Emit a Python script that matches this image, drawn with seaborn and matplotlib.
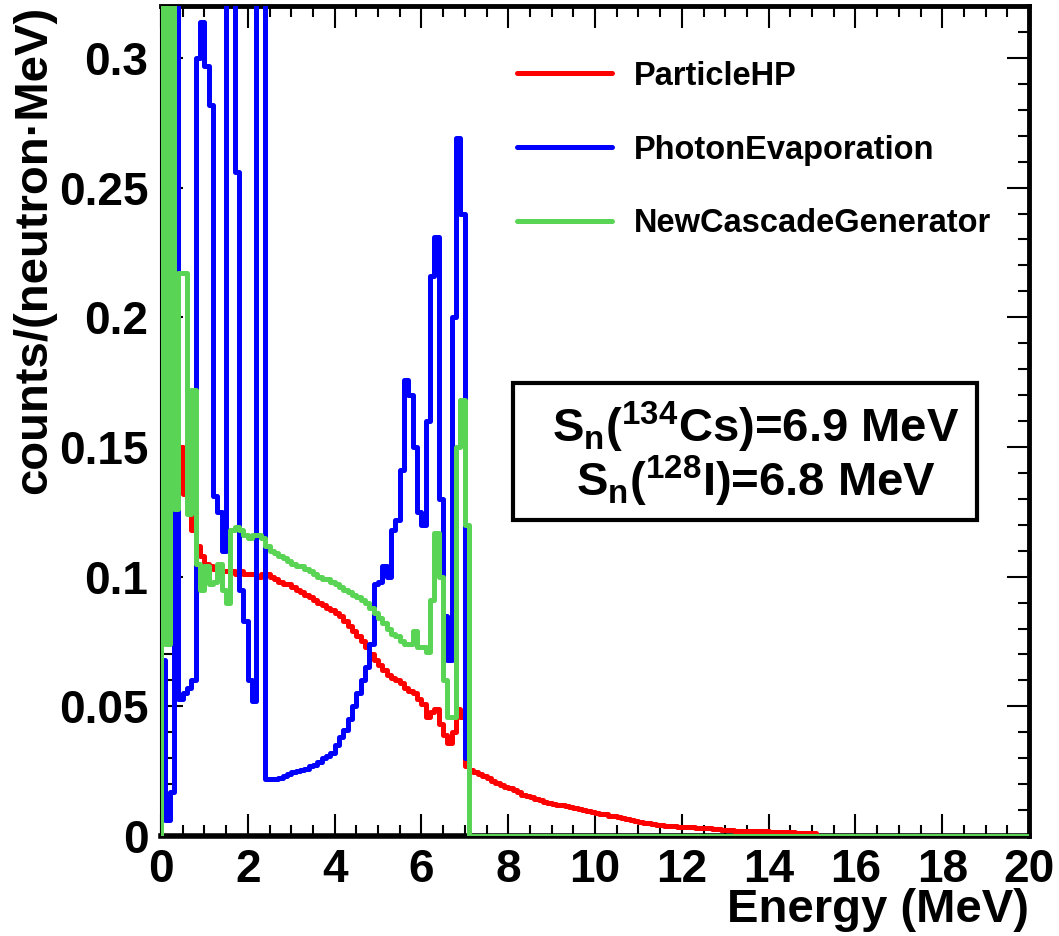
import numpy as np
import pandas as pd
import matplotlib
matplotlib.use("Agg")
import matplotlib.pyplot as plt
import seaborn as sns
from matplotlib.ticker import MultipleLocator
from matplotlib.patches import Rectangle

# ---------------- data (0.1 MeV bins from 0 to 20 MeV) ----------------
bin_edges = np.linspace(0.0, 20.0, 201)

particle_hp = [
    0.160, 0.157, 0.155, 0.152, 0.150, 0.132, 0.126, 0.118, 0.112, 0.108,
    0.105, 0.104, 0.103, 0.102, 0.102, 0.102, 0.102, 0.101, 0.102, 0.101,
    0.101, 0.101, 0.100, 0.101, 0.101, 0.100, 0.099, 0.098, 0.097, 0.097,
    0.096, 0.095, 0.094, 0.093, 0.092, 0.091, 0.090, 0.089, 0.088, 0.087,
    0.086, 0.085, 0.083, 0.081, 0.079, 0.077, 0.075, 0.073, 0.070, 0.068,
    0.066, 0.064, 0.062, 0.061, 0.060, 0.059, 0.057, 0.056, 0.055, 0.053,
    0.051, 0.046, 0.048, 0.049, 0.043, 0.039, 0.036, 0.040, 0.049, 0.046,
    0.027, 0.0255, 0.0248, 0.024, 0.0232, 0.0222, 0.0213, 0.0205, 0.0198, 0.019,
    0.0185, 0.0178, 0.017, 0.016, 0.0155, 0.015, 0.0143, 0.0137, 0.0132, 0.0128,
    0.0125, 0.0121, 0.0118, 0.0114, 0.0111, 0.0108, 0.0104, 0.0100, 0.0096, 0.0093,
    0.0089, 0.0086, 0.0083, 0.0079, 0.0076, 0.0073, 0.0069, 0.0065, 0.0061, 0.0057,
    0.0054, 0.0052, 0.0049, 0.0047, 0.0044, 0.0042, 0.0040, 0.0038, 0.0037, 0.0036,
    0.0035, 0.0034, 0.0033, 0.0032, 0.0031, 0.0030, 0.0029, 0.0027, 0.0026, 0.0025,
    0.0023, 0.0022, 0.0021, 0.0020, 0.0020, 0.0019, 0.0019, 0.0018, 0.0018, 0.0018,
    0.0017, 0.0016, 0.0016, 0.0015, 0.0015, 0.0014, 0.0013, 0.0013, 0.0012, 0.0012,
    0.0011,
] + [0.0] * 49

photon_evaporation = [
    0.068, 0.006, 0.017, 0.400, 0.053, 0.055, 0.057, 0.060, 0.300, 0.314,
    0.297, 0.282, 0.131, 0.125, 0.110, 0.330, 0.400, 0.256, 0.095, 0.083,
    0.060, 0.052, 0.350, 0.400, 0.022, 0.022, 0.022, 0.0225, 0.023, 0.024,
    0.0245, 0.025, 0.0255, 0.026, 0.027, 0.0275, 0.0285, 0.030, 0.031, 0.032,
    0.035, 0.038, 0.041, 0.045, 0.050, 0.055, 0.060, 0.065, 0.074, 0.097,
    0.098, 0.104, 0.100, 0.118, 0.122, 0.141, 0.176, 0.170, 0.150, 0.125,
    0.120, 0.160, 0.216, 0.231, 0.130, 0.085, 0.068, 0.200, 0.269, 0.240,
    0.030, 0.0,
] + [0.0] * 128

new_cascade_generator = [
    0.450, 0.074, 0.450, 0.126, 0.217, 0.217, 0.124, 0.172, 0.105, 0.095,
    0.104, 0.097, 0.098, 0.105, 0.095, 0.090, 0.118, 0.119, 0.118, 0.116,
    0.115, 0.116, 0.116, 0.115, 0.112, 0.110, 0.109, 0.108, 0.107, 0.106,
    0.105, 0.104, 0.104, 0.103, 0.102, 0.101, 0.100, 0.099, 0.099, 0.098,
    0.097, 0.096, 0.095, 0.094, 0.093, 0.092, 0.091, 0.090, 0.088, 0.086,
    0.084, 0.082, 0.080, 0.078, 0.077, 0.075, 0.074, 0.074, 0.079, 0.073,
    0.073, 0.071, 0.091, 0.117, 0.100, 0.060, 0.046, 0.046, 0.150, 0.168,
    0.120, 0.0,
] + [0.0] * 128

series_names = ["ParticleHP", "PhotonEvaporation", "NewCascadeGenerator"]
series_values = [particle_hp, photon_evaporation, new_cascade_generator]
series_colors = ["#ff0000", "#0000ff", "#59d454"]

x_major_ticks = [0, 2, 4, 6, 8, 10, 12, 14, 16, 18, 20]
y_major_ticks = [0, 0.05, 0.1, 0.15, 0.2, 0.25, 0.3]
y_tick_labels = ["0", "0.05", "0.1", "0.15", "0.2", "0.25", "0.3"]
x_label = "Energy (MeV)"
y_label = "counts/(neutron\u00b7MeV)"
box_lines = [r"$S_{n}(^{134}Cs)$=6.9 MeV", r"$S_{n}(^{128}I)$=6.8 MeV"]

# ---------------- style ----------------
sns.set_style("ticks")
plt.rcParams["font.family"] = ["Liberation Sans", "DejaVu Sans"]
plt.rcParams["font.weight"] = "bold"
plt.rcParams["axes.labelweight"] = "bold"
for key in ["text.color", "axes.labelcolor", "xtick.color", "ytick.color",
            "axes.edgecolor"]:
    plt.rcParams[key] = "black"
plt.rcParams["mathtext.fontset"] = "custom"
plt.rcParams["mathtext.rm"] = "Liberation Sans:bold"
plt.rcParams["mathtext.bf"] = "Liberation Sans:bold"
plt.rcParams["mathtext.it"] = "Liberation Sans:bold"
plt.rcParams["mathtext.sf"] = "Liberation Sans:bold"
plt.rcParams["mathtext.default"] = "bf"

W, H = 1059, 936
fig = plt.figure(figsize=(W / 100, H / 100), dpi=100)
ax = fig.add_axes([161 / W, 1 - 836 / H, (1029 - 161) / W, (836 - 6) / H])

handles = []
for name, vals, col in zip(series_names, series_values, series_colors):
    # histogram outline: rise from zero at the left edge, step through bins
    xs = np.concatenate([[bin_edges[0]], bin_edges])
    ys = np.concatenate([[0.0], vals, [vals[-1]]])
    df = pd.DataFrame({"energy": xs, "value": ys})
    n_before = len(ax.lines)
    sns.lineplot(data=df, x="energy", y="value", estimator=None, sort=False,
                 drawstyle="steps-post", color=col, linewidth=3.6,
                 zorder=3, ax=ax, label=name, legend=False)
    handles.append(ax.lines[n_before])

ax.set_xlim(0, 20)
ax.set_ylim(0, 0.32)

ax.set_xticks(x_major_ticks)
ax.set_xticklabels([str(t) for t in x_major_ticks])
ax.xaxis.set_minor_locator(MultipleLocator(0.5))
ax.set_yticks(y_major_ticks)
ax.set_yticklabels(y_tick_labels)
ax.yaxis.set_minor_locator(MultipleLocator(0.01))
ax.tick_params(which="both", direction="in", top=True, right=True,
               width=1.5, labelsize=33, pad=9, color="black",
               labelcolor="black")
ax.tick_params(which="major", length=16)
ax.tick_params(which="minor", length=8)
for lab in ax.get_xticklabels() + ax.get_yticklabels():
    lab.set_fontweight("bold")

for side, lw in [("left", 1.5), ("bottom", 4.0), ("top", 3.5), ("right", 3.5)]:
    ax.spines[side].set_linewidth(lw)
    ax.spines[side].set_color("black")

ax.set_xlabel(x_label, loc="right", fontsize=34, fontweight="bold",
              labelpad=-3, color="black")
ax.set_ylabel(y_label, loc="top", fontsize=34, fontweight="bold",
              labelpad=2, color="black")

leg = ax.legend(handles, series_names, loc="upper left",
                bbox_to_anchor=(0.410, 0.934), frameon=False,
                prop={"size": 23.5, "weight": "bold"}, handlelength=2.9,
                handletextpad=0.68, labelspacing=1.31, borderpad=0,
                borderaxespad=0)
for t in leg.get_texts():
    t.set_color("black")

ax.add_patch(Rectangle((0.4055, 0.3807), 0.5345, 0.1651, transform=ax.transAxes,
                       facecolor="white", edgecolor="black", linewidth=3.0,
                       zorder=4))
ax.text(0.6855, 0.4747, box_lines[0], transform=ax.transAxes, ha="center",
        va="baseline", fontsize=34, zorder=5, color="black")
ax.text(0.6855, 0.4096, box_lines[1], transform=ax.transAxes, ha="center",
        va="baseline", fontsize=34, zorder=5, color="black")

fig.savefig("out.png", dpi=100)
